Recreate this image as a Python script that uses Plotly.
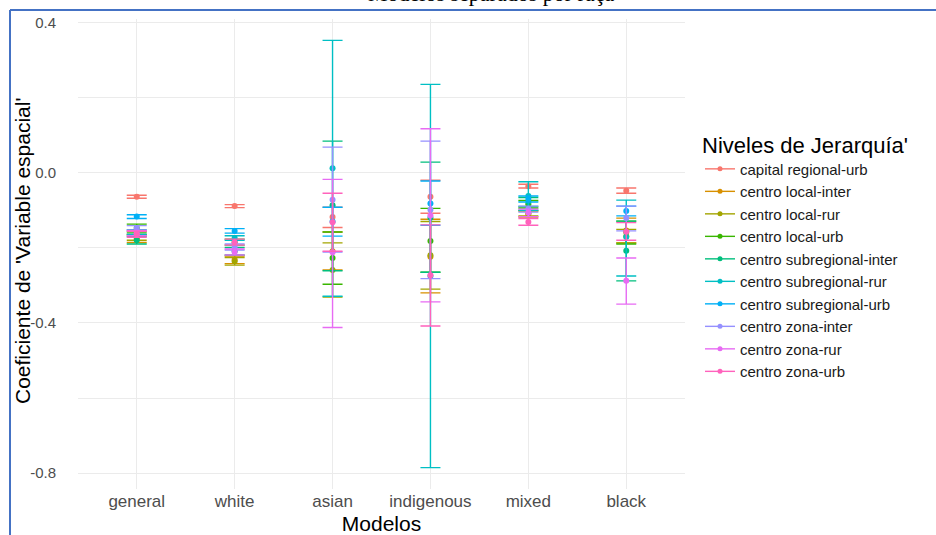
import plotly.graph_objects as go

models = ["general", "white", "asian", "indigenous", "mixed", "black"]
levels = ["capital regional-urb", "centro local-inter", "centro local-rur", "centro local-urb",
          "centro subregional-inter", "centro subregional-rur", "centro subregional-urb",
          "centro zona-inter", "centro zona-rur", "centro zona-urb"]
colors = ["#F8766D", "#D89000", "#A3A500", "#39B600", "#00BF7D",
          "#00BFC4", "#00B0F6", "#9590FF", "#E76BF3", "#FF62BC"]

# coefficient estimates (rows: levels, cols: models)
coef = [
    [-0.064, -0.089, -0.118, -0.064, -0.036, -0.048],
    [-0.176, -0.232, -0.209, -0.224, -0.110, -0.154],
    [-0.172, -0.236, -0.259, -0.220, -0.108, -0.169],
    [-0.147, -0.185, -0.227, -0.182, -0.084, -0.158],
    [-0.180, -0.209, -0.087, -0.120, -0.078, -0.208],
    [-0.158, -0.174, 0.012, -0.275, -0.062, -0.171],
    [-0.117, -0.155, -0.130, -0.082, -0.070, -0.102],
    [-0.147, -0.198, -0.072, -0.099, -0.097, -0.121],
    [-0.161, -0.211, -0.212, -0.114, -0.107, -0.288],
    [-0.164, -0.185, -0.132, -0.273, -0.131, -0.157],
]
ci_low = [
    [-0.068, -0.093, -0.146, -0.108, -0.041, -0.055],
    [-0.186, -0.242, -0.259, -0.320, -0.118, -0.187],
    [-0.180, -0.246, -0.331, -0.310, -0.115, -0.187],
    [-0.158, -0.193, -0.297, -0.265, -0.094, -0.190],
    [-0.190, -0.219, -0.261, -0.265, -0.090, -0.288],
    [-0.164, -0.180, -0.329, -0.785, -0.100, -0.275],
    [-0.122, -0.161, -0.169, -0.140, -0.078, -0.115],
    [-0.153, -0.206, -0.211, -0.282, -0.105, -0.155],
    [-0.168, -0.219, -0.412, -0.344, -0.117, -0.350],
    [-0.172, -0.193, -0.209, -0.408, -0.140, -0.180],
]
ci_high = [
    [-0.060, -0.085, -0.092, -0.020, -0.031, -0.041],
    [-0.166, -0.222, -0.158, -0.124, -0.102, -0.121],
    [-0.164, -0.226, -0.187, -0.130, -0.101, -0.151],
    [-0.137, -0.177, -0.158, -0.095, -0.074, -0.129],
    [-0.170, -0.199, 0.084, 0.028, -0.066, -0.129],
    [-0.152, -0.168, 0.352, 0.235, -0.024, -0.073],
    [-0.112, -0.149, -0.092, -0.022, -0.062, -0.089],
    [-0.141, -0.190, 0.068, 0.084, -0.089, -0.089],
    [-0.154, -0.203, -0.018, 0.117, -0.097, -0.227],
    [-0.156, -0.177, -0.055, -0.139, -0.122, -0.133],
]
y_ticks = [-0.8, -0.4, 0.0, 0.4]
y_tick_labels = ["-0.8", "-0.4", "0.0", "0.4"]

fig = go.Figure()
for i, name in enumerate(levels):
    plus = [h - c for h, c in zip(ci_high[i], coef[i])]
    minus = [c - l for c, l in zip(coef[i], ci_low[i])]
    fig.add_trace(go.Scatter(
        x=models, y=coef[i], mode="markers", name=name, showlegend=False,
        marker=dict(color=colors[i], size=6),
        error_y=dict(type="data", array=plus, arrayminus=minus, symmetric=False,
                     color=colors[i], thickness=1.4, width=10),
    ))
for i, name in enumerate(levels):
    fig.add_trace(go.Scatter(
        x=[None], y=[None], mode="lines+markers", name=name,
        line=dict(color=colors[i], width=1.4), marker=dict(color=colors[i], size=5),
    ))

W, H = 936, 535
ml, mr, mt, mb = 78, 251, 19, 46
pw, ph = W - ml - mr, H - mt - mb

def px_x(px):
    return (px - ml) / pw

def px_y(py):
    return 1 - (py - mt) / ph

grid = "#EBEBEB"
fig.update_layout(
    width=W, height=H,
    margin=dict(l=ml, r=mr, t=mt, b=mb, autoexpand=False),
    paper_bgcolor="white", plot_bgcolor="white",
    font=dict(family="Liberation Sans, Arial, sans-serif", color="#1A1A1A"),
    xaxis=dict(
        range=[-0.6, 5.6], showgrid=True, gridcolor=grid, gridwidth=1.1,
        zeroline=False, showline=False, ticks="", automargin=False,
        tickfont=dict(size=17, color="#4D4D4D"),
        title=dict(text="Modelos", font=dict(size=21, color="#000000"), standoff=9),
    ),
    yaxis=dict(
        range=[-0.842, 0.409], tickvals=y_ticks, ticktext=y_tick_labels,
        showgrid=True, gridcolor=grid, gridwidth=1.1, automargin=False,
        minor=dict(tickvals=[-0.6, -0.2, 0.2], showgrid=True, gridcolor=grid, gridwidth=0.6),
        zeroline=False, showline=False, ticks="", ticklabelstandoff=21,
        tickfont=dict(size=15, color="#4D4D4D"),
    ),
    legend=dict(
        title=dict(text="Niveles de Jerarquía'", font=dict(size=22, color="#000000")),
        font=dict(size=15, color="#1A1A1A"),
        x=px_x(700), xanchor="left", y=px_y(124), yanchor="top",
        itemwidth=30, bgcolor="rgba(0,0,0,0)", tracegroupgap=0,
    ),
    showlegend=True,
)

fig.add_annotation(
    text="Coeficiente de 'Variable espacial'", xref="paper", yref="paper",
    x=px_x(22), y=px_y(251), xanchor="center", yanchor="middle", textangle=-90,
    showarrow=False, font=dict(size=21, color="#000000"),
)

fig.add_annotation(
    text="Modelos separados por raça", xref="paper", yref="paper",
    x=px_x(491), y=px_y(-7), xanchor="center", yanchor="middle", showarrow=False,
    font=dict(family="Liberation Serif, serif", size=22, color="#000000"),
)

border = "#4472C4"
fig.add_shape(type="line", xref="paper", yref="paper",
              x0=px_x(10), y0=px_y(10), x1=px_x(945), y1=px_y(10),
              line=dict(color=border, width=2))
fig.add_shape(type="line", xref="paper", yref="paper",
              x0=px_x(10), y0=px_y(10), x1=px_x(10), y1=px_y(545),
              line=dict(color=border, width=2))

fig.write_html("out.html")
